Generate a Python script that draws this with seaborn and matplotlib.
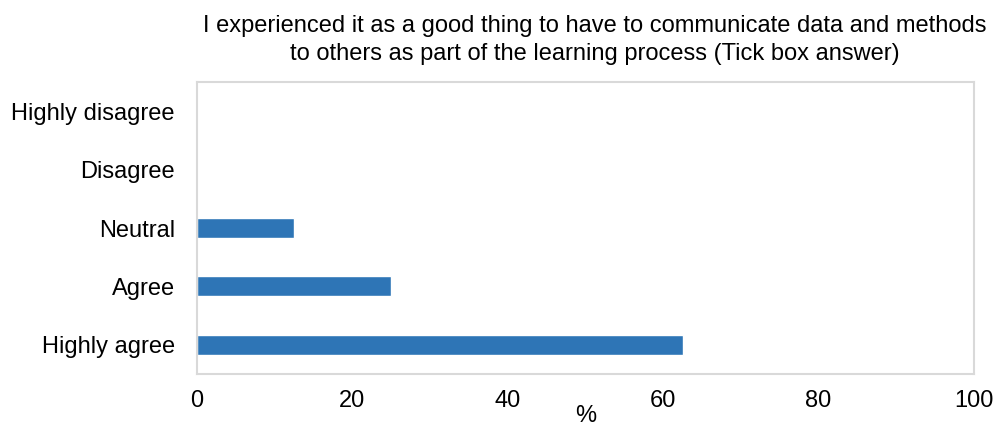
import matplotlib
matplotlib.use("Agg")
import matplotlib.pyplot as plt
import seaborn as sns
import pandas as pd

categories = ["Highly disagree", "Disagree", "Neutral", "Agree", "Highly agree"]
percentages = [0.0, 0.0, 12.5, 25.0, 62.5]
x_ticks = [0, 20, 40, 60, 80, 100]

sns.set_theme(style="white")
plt.rcParams["font.family"] = ["Liberation Sans", "DejaVu Sans"]

df = pd.DataFrame({"answer": categories, "pct": percentages})

fig = plt.figure(figsize=(9.96, 4.28), dpi=100)
ax = fig.add_axes([197 / 996, 54 / 428, 777 / 996, 292 / 428])

sns.barplot(data=df, x="pct", y="answer", order=categories, orient="h",
            color="#2E75B6", saturation=1, width=0.34, ax=ax)

ax.set_xlim(0, 100)
ax.set_xticks(x_ticks)
ax.set_xticklabels([str(t) for t in x_ticks])
ax.tick_params(axis="x", length=0, pad=11.5, labelsize=17, colors="#000000")
ax.tick_params(axis="y", length=0, pad=16, labelsize=17, colors="#000000")
ax.set_ylabel("")
ax.set_xlabel("%", fontsize=17, labelpad=-5, color="#000000")

for side in ["left", "right", "top", "bottom"]:
    ax.spines[side].set_visible(True)
    ax.spines[side].set_color("#d9d9d9")
    ax.spines[side].set_linewidth(1.5)

fig.text(595 / 996, 1 - 40 / 428,
         "I experienced it as a good thing to have to communicate data and methods\n"
         "to others as part of the learning process (Tick box answer)",
         ha="center", va="center", fontsize=17, linespacing=1.3, color="#000000")

fig.savefig("out.png", dpi=100)
